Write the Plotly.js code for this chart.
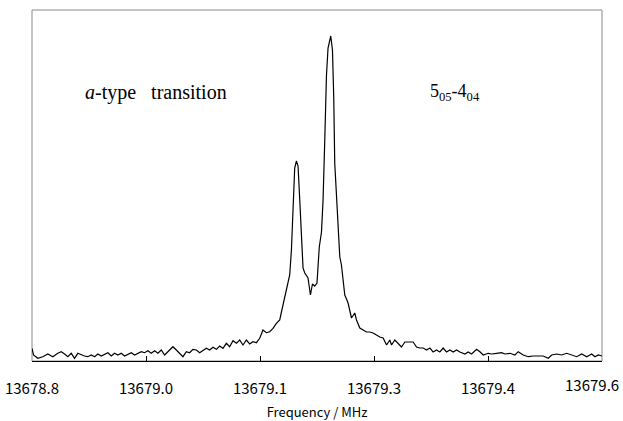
<!DOCTYPE html>
<html>
<head>
<meta charset="utf-8">
<script src="https://cdn.plot.ly/plotly-3.0.1.min.js"></script>
<style>html,body{margin:0;padding:0;background:#fff;}#chart{width:623px;height:421px;}</style>
</head>
<body>
<div id="chart"></div>
<script>
const freqMHz = [
13678.8000,13678.8021,13678.8081,13678.8152,13678.8222,13678.8292,13678.8362,13678.8410,13678.8457,13678.8503,
13678.8551,13678.8597,13678.8643,13678.8691,13678.8737,13678.8784,13678.8832,13678.8878,13678.8924,13678.8972,
13678.9018,13678.9065,13678.9113,13678.9159,13678.9205,13678.9253,13678.9299,13678.9346,13678.9394,13678.9440,
13678.9486,13678.9534,13678.9580,13678.9627,13678.9674,13678.9721,13678.9767,13678.9815,13678.9861,13678.9908,
13678.9978,13679.0026,13679.0072,13679.0118,13679.0166,13679.0212,13679.0259,13679.0307,13679.0353,13679.0399,
13679.0447,13679.0493,13679.0540,13679.0588,13679.0634,13679.0680,13679.0728,13679.0774,13679.0821,13679.0869,
13679.0915,13679.0961,13679.1009,13679.1055,13679.1102,13679.1149,13679.1196,13679.1242,13679.1290,13679.1336,
13679.1383,13679.1430,13679.1477,13679.1501,13679.1523,13679.1547,13679.1571,13679.1593,13679.1617,13679.1641,
13679.1664,13679.1687,13679.1711,13679.1734,13679.1758,13679.1782,13679.1804,13679.1828,13679.1852,13679.1874,
13679.1888,13679.1908,13679.1936,13679.1968,13679.2000,13679.2032,13679.2063,13679.2085,13679.2109,13679.2133,
13679.2155,13679.2179,13679.2193,13679.2217,13679.2235,13679.2249,13679.2273,13679.2296,13679.2320,13679.2343,
13679.2366,13679.2390,13679.2414,13679.2436,13679.2484,13679.2506,13679.2530,13679.2554,13679.2601,13679.2647,
13679.2695,13679.2741,13679.2787,13679.2835,13679.2881,13679.2928,13679.2976,13679.3022,13679.3046,13679.3092,
13679.3139,13679.3186,13679.3233,13679.3303,13679.3349,13679.3397,13679.3443,13679.3490,13679.3538,13679.3584,
13679.3630,13679.3678,13679.3724,13679.3771,13679.3818,13679.3865,13679.3911,13679.3959,13679.4005,13679.4076,
13679.4122,13679.4170,13679.4240,13679.4286,13679.4333,13679.4403,13679.4451,13679.4521,13679.4591,13679.4637,
13679.4708,13679.4778,13679.4824,13679.4894,13679.4965,13679.5035,13679.5105,13679.5175,13679.5246,13679.5293,
13679.5364,13679.5434,13679.5504,13679.5574,13679.5645,13679.5715,13679.5785,13679.5855,13679.5902,13679.5948,
13679.6000
];
// Intensity (arbitrary units)
const intensity = [
12.7,6,2.7,4.3,7,4.3,7.7,9.3,7,4.3,
7.7,2.7,7.7,6,5,4.3,6,4.3,7,5,
7,8.3,5,7.7,6,7.7,5,7,8.3,6,
7.7,9.3,8.3,10.3,7.7,10.3,7.7,11,6,9.3,
14.3,11,7.7,4.3,9.3,8.3,11.7,11,8.3,10.3,
12.7,11,13.7,11.7,15,12.7,17.7,14.3,20.3,17.7,
21,16,21,17,19.3,18.3,22.7,31,28.3,29.3,
32.7,37.7,41,49,56,66,71,78,86,111,
161,193,200,195,161,116,93,88,85,83,
76,66,77,75,78,114,129,161,221,286,
313,323,325,311,264,198,164,131,104,96,
80,66,62,58,43,46,48,41,33,31,
29,29,28,26,24,23,16,21,16,21,
18,14,19,19,19,14,13,13,11,13,
9,11,9,13,9,11,9,11,9,7,
9,7,11.7,9.3,6,7.7,7,7.7,8.3,7,
7.7,6,9.3,6,4.3,5,5,5,2.7,6,
7,6,7.7,6,4.3,7,4.3,7,4.3,6,
5
];
const tickVals = [13678.8, 13678.96, 13679.12, 13679.28, 13679.44, 13679.6];
const tickText = ["13678.8", "13679.0", "13679.1", "13679.3", "13679.4", "13679.6"];
const xTitle = "Frequency / MHz";
const labelType = "<i>a</i>-type\u00A0\u00A0\u00A0transition";
const labelTrans = "5<sub>05</sub>-4<sub>04</sub>";

const gothic = "Noto Sans CJK JP, sans-serif";
const nT = tickVals.length;
// all but the last tick label go on the axis; the last one (at the right edge) is placed as an annotation
const axisText = tickText.map((t, i) => i === nT - 1 ? "" : t);

Plotly.newPlot("chart", [{
  x: freqMHz, y: intensity, type: "scatter", mode: "lines",
  line: {color: "#000", width: 1.2}, hoverinfo: "skip"
}], {
  width: 623, height: 421,
  margin: {l: 32, r: 21, t: 10, b: 60},
  paper_bgcolor: "#fff", plot_bgcolor: "#fff",
  showlegend: false,
  xaxis: {
    range: [13678.8, 13679.6], tickvals: tickVals, ticktext: axisText,
    ticks: "inside", ticklen: 5, tickcolor: "#000", tickwidth: 1,
    showline: true, linecolor: "#000", linewidth: 1, mirror: false,
    showgrid: false, zeroline: false,
    ticklabeloverflow: "allow", ticklabelstandoff: 14,
    tickfont: {family: gothic, size: 15, color: "#000"},
    title: {text: xTitle, font: {family: gothic, size: 13, color: "#000"}, standoff: 11}
  },
  yaxis: {
    range: [0, 351], showticklabels: false, ticks: "", showgrid: false,
    zeroline: false, showline: false
  },
  shapes: [{type: "rect", xref: "paper", yref: "paper", x0: 0, x1: 1, y0: 0, y1: 1,
    line: {color: "#8a8a8a", width: 1}, layer: "below"}],
  annotations: [
    {xref: "paper", yref: "paper", x: 0.089, y: 0.766, xanchor: "left", yanchor: "middle",
     text: labelType, showarrow: false, font: {family: "Liberation Serif, serif", size: 20, color: "#000"}},
    {xref: "paper", yref: "paper", x: 0.742, y: 0.766, xanchor: "center", yanchor: "middle",
     text: labelTrans, showarrow: false, font: {family: "Liberation Serif, serif", size: 18, color: "#000"}},
    {xref: "x", yref: "paper", x: tickVals[nT - 1], y: 0, xanchor: "right", yanchor: "middle",
     xshift: 19, yshift: -23, text: tickText[nT - 1], showarrow: false,
     font: {family: gothic, size: 15, color: "#000"}}
  ]
}, {displayModeBar: false, staticPlot: true});
</script>
</body>
</html>
